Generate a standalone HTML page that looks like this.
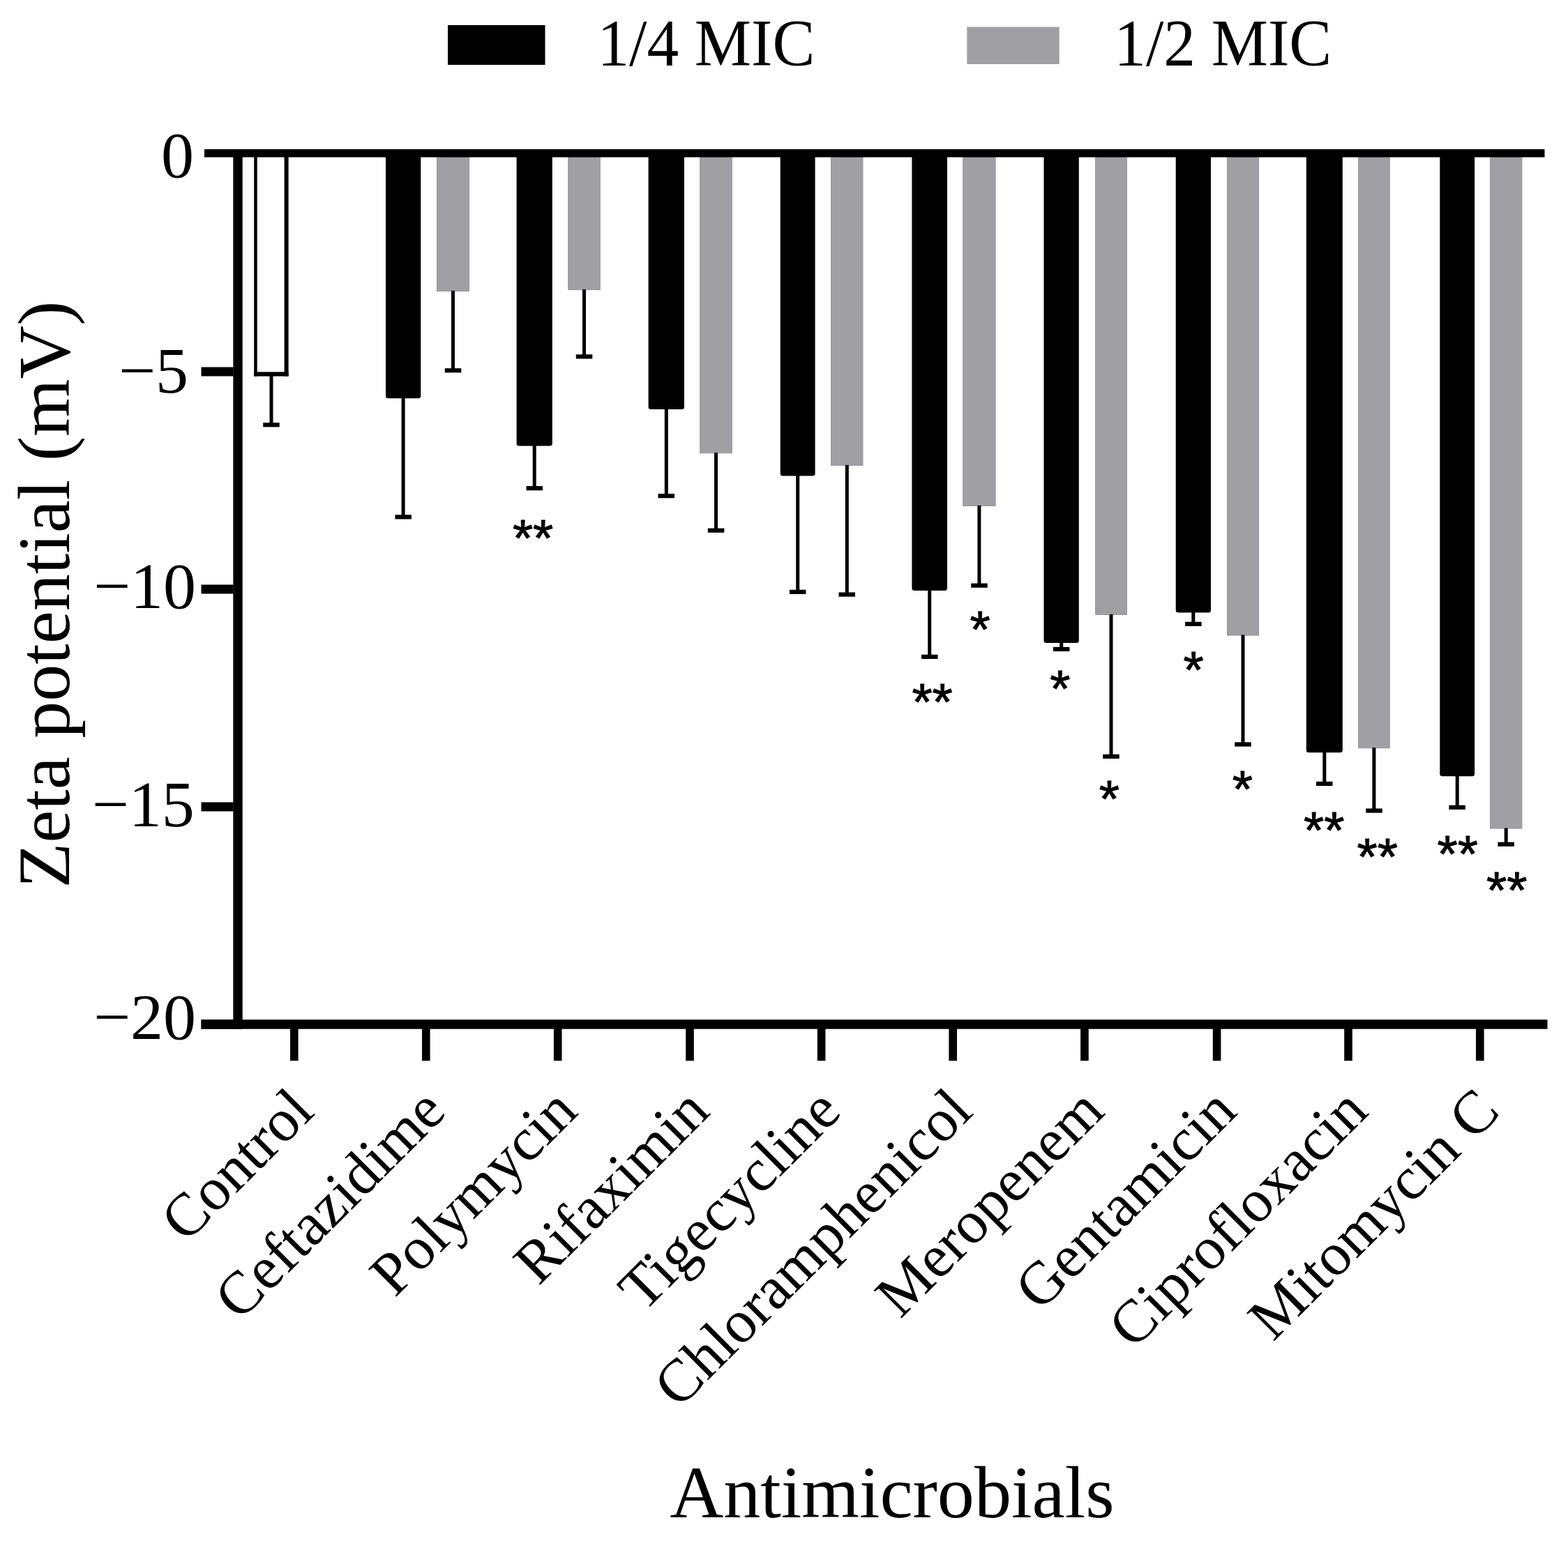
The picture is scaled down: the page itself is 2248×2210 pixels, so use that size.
<!DOCTYPE html>
<html><head><meta charset="utf-8"><title>Zeta potential</title>
<style>html,body{margin:0;padding:0;background:#fff;}svg{display:block;}</style>
</head><body>
<svg width="2248" height="2210" viewBox="0 0 2248 2210">
<rect width="2248" height="2210" fill="#fff"/>
<rect x="642" y="36" width="139.5" height="57" fill="#000"/>
<rect x="1386.3" y="38.6" width="132.4" height="53.4" fill="#a09fa4"/>
<g font-family="Liberation Serif, Times New Roman, serif" fill="#000">
<text transform="translate(856.4,93.5) scale(1,1.04)" font-size="91.3">1/4 MIC</text>
<text transform="translate(1597.3,93.5) scale(1,1.04)" font-size="91.3">1/2 MIC</text>
</g>
<g>
<rect x="364.2" y="219.5" width="4.5" height="320.1" fill="#000"/><rect x="407.6" y="219.5" width="6" height="320.1" fill="#000"/><rect x="364.2" y="533.4" width="49.4" height="6.2" fill="#000"/>
<rect x="553.0" y="219.5" width="50.3" height="351.7" rx="3.5" fill="#000"/>
<rect x="740.6" y="219.5" width="51.2" height="420.0" rx="3.5" fill="#000"/>
<rect x="929.6" y="219.5" width="51.4" height="367.5" rx="3.5" fill="#000"/>
<rect x="1118.7" y="219.5" width="49.9" height="463.1" rx="3.5" fill="#000"/>
<rect x="1307.4" y="219.5" width="50.6" height="627.5" rx="3.5" fill="#000"/>
<rect x="1496.5" y="219.5" width="50.3" height="702.5" rx="3.5" fill="#000"/>
<rect x="1685.7" y="219.5" width="50.3" height="659.1" rx="3.5" fill="#000"/>
<rect x="1872.8" y="219.5" width="52.0" height="859.7" rx="3.5" fill="#000"/>
<rect x="2064.3" y="219.5" width="49.8" height="893.7" rx="3.5" fill="#000"/>
<rect x="626.5" y="219.5" width="46.0" height="198.0" fill="#a09fa4" stroke="#97969b" stroke-width="1"/>
<rect x="814.7" y="219.5" width="45.6" height="196.1" fill="#a09fa4" stroke="#97969b" stroke-width="1"/>
<rect x="1003.7" y="219.5" width="45.6" height="430.3" fill="#a09fa4" stroke="#97969b" stroke-width="1"/>
<rect x="1191.5" y="219.5" width="45.5" height="447.9" fill="#a09fa4" stroke="#97969b" stroke-width="1"/>
<rect x="1380.7" y="219.5" width="46.4" height="506.0" fill="#a09fa4" stroke="#97969b" stroke-width="1"/>
<rect x="1570.5" y="219.5" width="44.9" height="662.0" fill="#a09fa4" stroke="#97969b" stroke-width="1"/>
<rect x="1759.5" y="219.5" width="45.0" height="691.6" fill="#a09fa4" stroke="#97969b" stroke-width="1"/>
<rect x="1947.5" y="219.5" width="44.8" height="853.3" fill="#a09fa4" stroke="#97969b" stroke-width="1"/>
<rect x="2136.5" y="219.5" width="45.4" height="968.6" fill="#a09fa4" stroke="#97969b" stroke-width="1"/>
</g>
<g fill="#000">
<rect x="386.5" y="537.0" width="5" height="72.3"/><rect x="377.2" y="606.2" width="23.5" height="6.2"/>
<rect x="575.6" y="570.2" width="5" height="171.2"/><rect x="566.4" y="738.3" width="23.5" height="6.2"/>
<rect x="763.7" y="638.5" width="5" height="61.7"/><rect x="754.5" y="697.1" width="23.5" height="6.2"/>
<rect x="952.8" y="586.0" width="5" height="125.2"/><rect x="943.5" y="708.1" width="23.5" height="6.2"/>
<rect x="1141.2" y="681.6" width="5" height="167.3"/><rect x="1131.9" y="845.8" width="23.5" height="6.2"/>
<rect x="1330.2" y="846.0" width="5" height="95.9"/><rect x="1321.0" y="938.8" width="23.5" height="6.2"/>
<rect x="1519.2" y="921.0" width="5" height="10.0"/><rect x="1509.9" y="927.9" width="23.5" height="6.2"/>
<rect x="1708.3" y="877.6" width="5" height="17.3"/><rect x="1699.1" y="891.8" width="23.5" height="6.2"/>
<rect x="1896.3" y="1078.2" width="5" height="45.8"/><rect x="1887.0" y="1120.9" width="23.5" height="6.2"/>
<rect x="2086.7" y="1112.2" width="5" height="45.7"/><rect x="2077.4" y="1154.8" width="23.5" height="6.2"/>
<rect x="647.0" y="417.0" width="5" height="114.3"/><rect x="637.8" y="528.2" width="23.5" height="6.2"/>
<rect x="835.0" y="415.1" width="5" height="96.3"/><rect x="825.8" y="508.3" width="23.5" height="6.2"/>
<rect x="1024.0" y="649.3" width="5" height="111.4"/><rect x="1014.8" y="757.6" width="23.5" height="6.2"/>
<rect x="1211.8" y="666.9" width="5" height="185.7"/><rect x="1202.5" y="849.5" width="23.5" height="6.2"/>
<rect x="1401.4" y="725.0" width="5" height="114.7"/><rect x="1392.2" y="836.6" width="23.5" height="6.2"/>
<rect x="1590.5" y="881.0" width="5" height="203.9"/><rect x="1581.2" y="1081.8" width="23.5" height="6.2"/>
<rect x="1779.5" y="910.6" width="5" height="156.9"/><rect x="1770.2" y="1064.4" width="23.5" height="6.2"/>
<rect x="1967.4" y="1072.3" width="5" height="90.3"/><rect x="1958.2" y="1159.5" width="23.5" height="6.2"/>
<rect x="2156.7" y="1187.6" width="5" height="23.2"/><rect x="2147.4" y="1207.7" width="23.5" height="6.2"/>
</g>
<g fill="#000">
<rect x="293" y="214" width="1921.5" height="11.5"/>
<rect x="288.5" y="1462.3" width="1930" height="13.4"/>
<rect x="334.3" y="214" width="13.4" height="1261.7"/>
<rect x="288.5" y="526.5" width="46" height="13"/>
<rect x="288.5" y="838.5" width="46" height="13"/>
<rect x="288.5" y="1150.5" width="46" height="13"/>
<rect x="288.5" y="1462.5" width="46" height="13"/>
<rect x="416.0" y="1470" width="11.6" height="51.3"/>
<rect x="605.0" y="1470" width="11.6" height="51.3"/>
<rect x="793.9" y="1470" width="11.6" height="51.3"/>
<rect x="983.2" y="1470" width="11.6" height="51.3"/>
<rect x="1171.8" y="1470" width="11.6" height="51.3"/>
<rect x="1360.4" y="1470" width="11.6" height="51.3"/>
<rect x="1549.1" y="1470" width="11.6" height="51.3"/>
<rect x="1738.8" y="1470" width="11.6" height="51.3"/>
<rect x="1927.2" y="1470" width="11.6" height="51.3"/>
<rect x="2116.0" y="1470" width="11.6" height="51.3"/>
</g>
<g font-family="Liberation Serif, Times New Roman, serif" font-size="94" fill="#000" text-anchor="end">
<text x="278" y="253.5">0</text>
<text x="270" y="562.5">−5</text>
<text x="281" y="871.5">−10</text>
<text x="278.8" y="1185">−15</text>
<text x="281" y="1489.5">−20</text>
</g>
<g font-family="Liberation Sans, Arial, sans-serif" font-size="75" fill="#000" stroke="#000" stroke-width="1" text-anchor="middle">
<text x="764.1" y="797.0">**</text>
<text x="1336.6" y="1032.0">**</text>
<text x="1405.2" y="927.5">*</text>
<text x="1519.9" y="1013.2">*</text>
<text x="1590.3" y="1170.7">*</text>
<text x="1711.2" y="986.1">*</text>
<text x="1781.3" y="1156.5">*</text>
<text x="1898.2" y="1216.0">**</text>
<text x="1974.8" y="1254.2">**</text>
<text x="2089.8" y="1250.2">**</text>
<text x="2160.2" y="1302.2">**</text>
</g>
<g font-family="Liberation Serif, Times New Roman, serif" font-size="86.5" fill="#000" text-anchor="end">
<text transform="translate(453.2,1597) rotate(-45)">Control</text>
<text transform="translate(642.2,1597) rotate(-45)">Ceftazidime</text>
<text transform="translate(831.1,1597) rotate(-45)">Polymycin</text>
<text transform="translate(1020.4,1597) rotate(-45)">Rifaximin</text>
<text transform="translate(1209.0,1597) rotate(-45)">Tigecycline</text>
<text transform="translate(1397.6,1597) rotate(-45)">Chloramphenicol</text>
<text transform="translate(1586.3,1597) rotate(-45)">Meropenem</text>
<text transform="translate(1776.0,1597) rotate(-45)">Gentamicin</text>
<text transform="translate(1964.4,1597) rotate(-45)">Ciprofloxacin</text>
<text transform="translate(2153.2,1597) rotate(-45)">Mitomycin C</text>
</g>
<g font-family="Liberation Serif, Times New Roman, serif" fill="#000">
<text x="960.5" y="2175.5" font-size="106.2">Antimicrobials</text>
<text transform="translate(99.3,1273.5) rotate(-90)" font-size="106">Zeta potential (mV)</text>
</g>
</svg>
</body></html>
